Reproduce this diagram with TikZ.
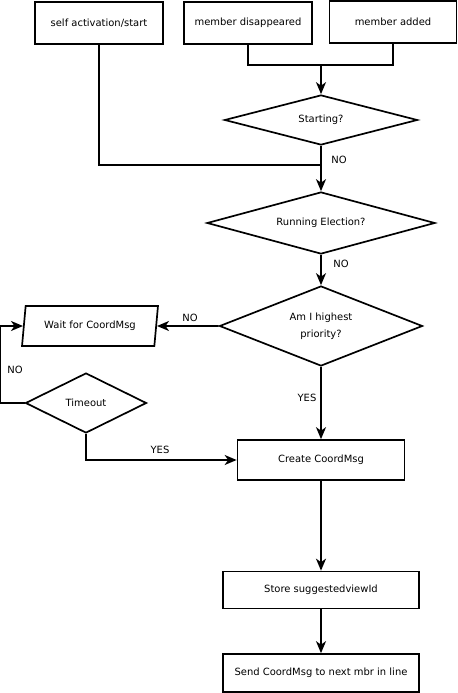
\documentclass[tikz,border=0pt]{standalone}
\usepackage{fontspec}
\setmainfont{DejaVu Sans}
\usetikzlibrary{shapes.geometric,arrows.meta}
\begin{document}
\begin{tikzpicture}[x=1bp,y=-1bp,line width=1.7pt,
        flow/.style={-{Stealth[length=12bp,width=10bp,inset=3.5bp]}},
        lbl/.style={font=\fontsize{10}{12}\selectfont}]
    \useasboundingbox (0,0) rectangle (458,693);
    \begin{scope}[every node/.style={draw,inner sep=0pt,align=center,font=\fontsize{10}{12}\selectfont}]
        % events
        \node (self) [rectangle,minimum width=128bp,minimum height=42bp] at (99,23) {self activation/start};
        \node (dis) [rectangle,minimum width=128bp,minimum height=42bp] at (248,23) {member disappeared};
        \node (add) [rectangle,minimum width=127bp,minimum height=42bp] at (393,22) {member added};
        % decisions
        \node (starting) [diamond,aspect=3.9,minimum width=193bp,minimum height=50bp] at (321,120) {Starting?};
        \node (running) [diamond,aspect=3.7,minimum width=228bp,minimum height=62bp] at (321,223) {Running Election?};
        \node (ami) [diamond,aspect=2.5,minimum width=203bp,minimum height=80bp,font=\fontsize{10}{17}\selectfont]
            at (321,326) {Am I highest\\priority?};
        \node (wait) [trapezium,trapezium left angle=75,trapezium right angle=105,trapezium stretches=true,
            minimum width=136bp,minimum height=40bp] at (90,326) {Wait for CoordMsg};
        \node (timeout) [diamond,aspect=2,minimum width=121bp,minimum height=60bp] at (86,403) {Timeout};
        % actions
        \node (create) [rectangle,minimum width=167bp,minimum height=40bp] at (321,460) {Create CoordMsg};
        \node (store) [rectangle,minimum width=196bp,minimum height=37bp] at (321,590) {Store suggestedviewId};
        \node (send) [rectangle,minimum width=196bp,minimum height=38bp] at (321,673) {Send CoordMsg to next mbr in line};
    \end{scope}
    \coordinate (join1) at (321,65);
    \coordinate (join2) at (321,165);
    \draw (dis.south) |- (join1) -| (add.south);
    \draw[flow] (join1) -- (starting.north);
    \draw (self.south) |- (join2);
    \draw[flow] (starting.south) -- (running.north);
    \draw[flow] (running.south) -- (ami.north);
    \draw[flow] (ami.west) -- (wait.east);
    \draw[flow] (timeout.west) -- ++(-24,0) |- (wait.west);
    \draw[flow] (timeout.south) |- (create.west);
    \draw[flow] (ami.south) -- (create.north);
    \draw[flow] (create.south) -- (store.north);
    \draw[flow] (store.south) -- (send.north);
    % labels
    \node[lbl] at (339,160) {NO};
    \node[lbl] at (341,264) {NO};
    \node[lbl] at (190,318) {NO};
    \node[lbl] at (15,370) {NO};
    \node[lbl] at (307,398) {YES};
    \node[lbl] at (160,450) {YES};
\end{tikzpicture}
\end{document}
